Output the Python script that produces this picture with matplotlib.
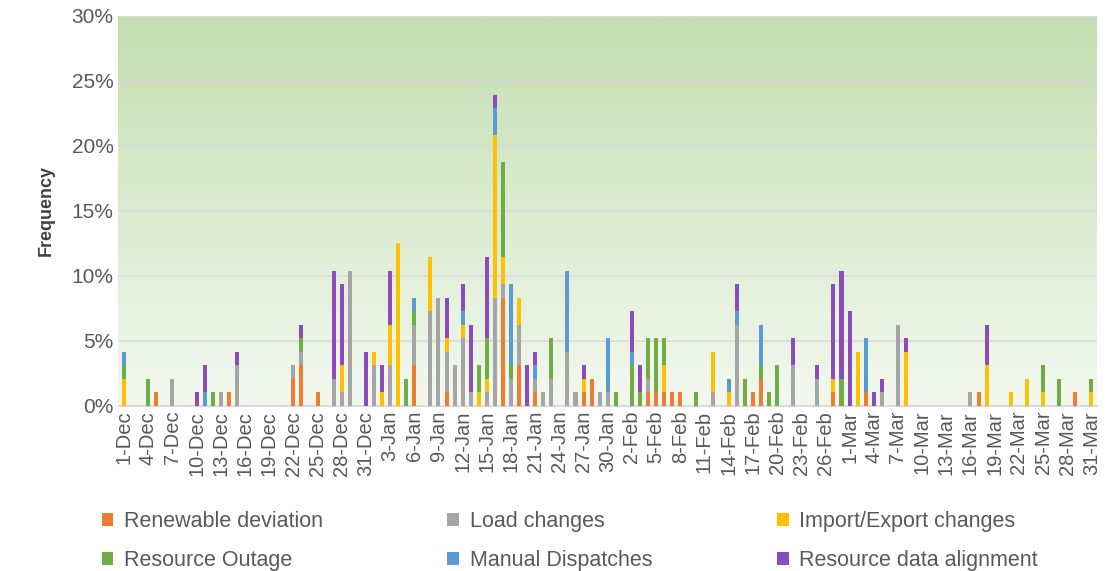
import numpy as np
import pandas as pd
import matplotlib
matplotlib.use("Agg")
import matplotlib.pyplot as plt
from matplotlib.ticker import PercentFormatter

plt.rcParams['font.family'] = ['Liberation Sans', 'DejaVu Sans']

# counts of 15-min intervals per day (96 per day)
dates = pd.date_range("2018-12-01", "2019-03-31", freq="D")
labels = [f"{d.day}-{d.strftime('%b')}" for d in dates]

renewable = {"5-Dec": 1, "14-Dec": 1, "22-Dec": 2, "23-Dec": 3, "25-Dec": 1, "6-Jan": 3, "10-Jan": 1,
             "17-Jan": 8, "19-Jan": 3, "21-Jan": 1, "27-Jan": 1, "28-Jan": 2, "4-Feb": 1, "5-Feb": 1,
             "6-Feb": 1, "7-Feb": 1, "8-Feb": 1, "17-Feb": 1, "18-Feb": 2, "27-Feb": 1, "3-Mar": 1,
             "17-Mar": 1, "29-Mar": 1}
load = {"7-Dec": 2, "13-Dec": 1, "15-Dec": 3, "22-Dec": 1, "23-Dec": 1, "27-Dec": 2, "28-Dec": 1,
        "29-Dec": 10, "1-Jan": 3, "3-Jan": 3, "6-Jan": 3, "8-Jan": 7, "9-Jan": 8, "10-Jan": 3,
        "11-Jan": 3, "12-Jan": 5, "13-Jan": 1, "15-Jan": 1, "16-Jan": 8, "17-Jan": 1, "18-Jan": 2,
        "19-Jan": 3, "21-Jan": 1, "22-Jan": 1, "23-Jan": 2, "25-Jan": 4, "26-Jan": 1, "29-Jan": 1,
        "30-Jan": 1, "4-Feb": 1, "12-Feb": 1, "15-Feb": 6, "22-Feb": 3, "25-Feb": 2, "5-Mar": 1,
        "7-Mar": 6, "16-Mar": 1}
import_export = {"1-Dec": 2, "28-Dec": 2, "1-Jan": 1, "2-Jan": 1, "3-Jan": 3, "4-Jan": 12, "8-Jan": 4,
                 "10-Jan": 1, "12-Jan": 1, "14-Jan": 1, "15-Jan": 1, "16-Jan": 12, "17-Jan": 2,
                 "19-Jan": 2, "27-Jan": 1, "6-Feb": 2, "12-Feb": 3, "14-Feb": 1, "27-Feb": 1, "2-Mar": 4,
                 "8-Mar": 4, "18-Mar": 3, "21-Mar": 1, "23-Mar": 2, "25-Mar": 1, "31-Mar": 1}
outage = {"1-Dec": 1, "4-Dec": 2, "12-Dec": 1, "23-Dec": 1, "5-Jan": 2, "6-Jan": 1, "14-Jan": 2,
          "15-Jan": 3, "17-Jan": 7, "18-Jan": 1, "23-Jan": 3, "31-Jan": 1, "2-Feb": 3, "3-Feb": 1,
          "4-Feb": 3, "5-Feb": 4, "6-Feb": 2, "10-Feb": 1, "16-Feb": 2, "18-Feb": 1, "19-Feb": 1,
          "20-Feb": 3, "28-Feb": 2, "25-Mar": 2, "27-Mar": 2, "31-Mar": 1}
manual = {"1-Dec": 1, "11-Dec": 1, "6-Jan": 1, "12-Jan": 1, "16-Jan": 2, "18-Jan": 6, "21-Jan": 1,
          "25-Jan": 6, "30-Jan": 4, "2-Feb": 1, "14-Feb": 1, "15-Feb": 1, "18-Feb": 3, "3-Mar": 4}
alignment = {"10-Dec": 1, "11-Dec": 2, "15-Dec": 1, "23-Dec": 1, "27-Dec": 8, "28-Dec": 6, "31-Dec": 4,
             "2-Jan": 2, "3-Jan": 4, "10-Jan": 3, "12-Jan": 2, "13-Jan": 5, "15-Jan": 6, "16-Jan": 1,
             "20-Jan": 3, "21-Jan": 1, "27-Jan": 1, "2-Feb": 3, "3-Feb": 2, "15-Feb": 2, "22-Feb": 2,
             "25-Feb": 1, "27-Feb": 7, "28-Feb": 8, "1-Mar": 7, "4-Mar": 1, "5-Mar": 1, "8-Mar": 1,
             "18-Mar": 3}

series = [
    ("Renewable deviation", renewable, "#ED7D31"),
    ("Load changes", load, "#A5A5A5"),
    ("Import/Export changes", import_export, "#FFC000"),
    ("Resource Outage", outage, "#70AD47"),
    ("Manual Dispatches", manual, "#5B9BD5"),
    ("Resource data alignment", alignment, "#8A4CBA"),
]

fig = plt.figure(figsize=(11.07, 5.71), dpi=100)
ax = fig.add_axes([0.107, 0.289, 0.884, 0.683])

x = np.arange(len(dates))
bottom = np.zeros(len(dates))
handles = []
for name, d, color in series:
    vals = np.array([d.get(l, 0) for l in labels]) / 96.0
    h = ax.bar(x, vals, 0.5, bottom=bottom, color=color, label=name, zorder=3)
    handles.append(h)
    bottom += vals

# gradient background
grad = np.linspace(0, 1, 256).reshape(-1, 1)
cmap = matplotlib.colors.LinearSegmentedColormap.from_list("g", ["#f3f8ef", "#c3dfb1"])
ax.imshow(grad, extent=[-1, len(dates), 0, 0.30], origin="lower", aspect="auto", cmap=cmap, zorder=0)

ax.set_xlim(-0.7, len(dates) - 0.3)
ax.set_ylim(0, 0.30)
ax.set_yticks(np.arange(0, 0.31, 0.05))
ax.yaxis.set_major_formatter(PercentFormatter(1.0, decimals=0))
ax.grid(axis="y", color="#d9d9d9", linewidth=1.2, zorder=1)
ax.set_xticks(x[::3])
ax.set_xticklabels(labels[::3], rotation=90, fontsize=14.5, color="#595959")
ax.tick_params(axis="y", labelsize=15, colors="#595959", length=0)
ax.tick_params(axis="x", length=0)
for s in ["top", "right", "left"]:
    ax.spines[s].set_visible(False)
ax.spines["bottom"].set_color("#d9d9d9")
ax.set_ylabel("Frequency", fontsize=13, fontweight="bold", color="#404040", labelpad=12)

# legend as three columns, each placed where the reference has it
for col, xpos in enumerate([0.084, 0.396, 0.694]):
    idx = [col, col + 3]
    leg = fig.legend([handles[i] for i in idx], [series[i][0] for i in idx],
                     loc="upper left", bbox_to_anchor=(xpos, 0.12), frameon=False, fontsize=15.5,
                     handlelength=0.55, handleheight=0.55, handletextpad=0.5,
                     labelspacing=0.85, labelcolor="#595959", borderaxespad=0)

fig.savefig("out.png", dpi=100)
